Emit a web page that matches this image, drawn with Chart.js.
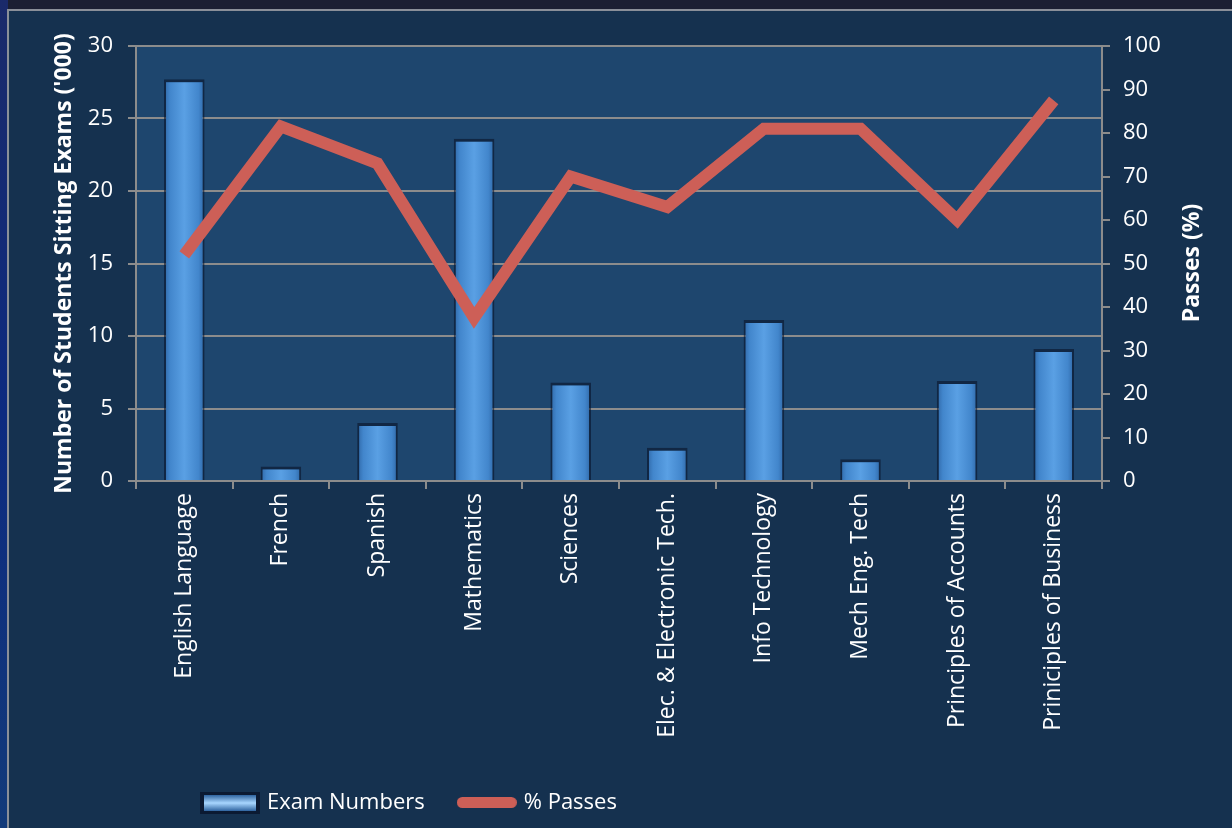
<!DOCTYPE html>
<html><head><meta charset="utf-8">
<script src="https://cdn.jsdelivr.net/npm/chart.js@4"></script>
<style>
html,body{margin:0;padding:0;width:1232px;height:828px;overflow:hidden;background:#1b1f33;}
#bg{position:absolute;left:0;top:0;width:8px;height:828px;background:linear-gradient(#1a2a6a,#0d2a80,#123a7a);}
#panel{position:absolute;left:7px;top:9px;width:1225px;height:819px;box-sizing:border-box;border-left:2px solid #8a8f99;border-top:2px solid #8a8f99;background:#15314f;}
#wrap{position:absolute;left:0;top:0;width:1232px;height:828px;}
</style></head>
<body><div id="bg"></div><div id="panel"></div><div id="wrap"><canvas id="c" width="1232" height="828"></canvas></div>
<script>
const categories = ['English Language','French','Spanish','Mathematics','Sciences','Elec. & Electronic Tech.','Info Technology','Mech Eng. Tech','Principles of Accounts','Priniciples of Business'];
const examNumbers = [27.7, 1.0, 4.0, 23.6, 6.8, 2.3, 11.1, 1.5, 6.9, 9.1];
const passes = [52, 81.5, 73, 37.5, 70, 63, 81, 81, 60, 87.5];
const leftTicksMax = 30, leftStep = 5, rightTicksMax = 100, rightStep = 10;
const leftTitle = "Number of Students Sitting Exams ('000)";
const rightTitle = 'Passes (%)';
const seriesNames = ['Exam Numbers', '% Passes'];

const FONT = 'Open Sans';
const GRID = '#8c8c8c';
const RED = '#cd5f57';

function makeBarIcon(){
  const c = document.createElement('canvas'); c.width = 60; c.height = 22;
  const x = c.getContext('2d');
  x.fillStyle = '#0b1a33'; x.fillRect(0,0,60,22);
  const g = x.createLinearGradient(0,3,0,19);
  g.addColorStop(0,'#2f64a0'); g.addColorStop(0.5,'#a8d6ff'); g.addColorStop(1,'#2f64a0');
  x.fillStyle = g; x.fillRect(4,3,52,16);
  return c;
}
function makeLineIcon(){
  const c = document.createElement('canvas'); c.width = 60; c.height = 12;
  const x = c.getContext('2d');
  x.fillStyle = RED; x.beginPath();
  if (x.roundRect) x.roundRect(0,0,60,11,5.5); else x.rect(0,0,60,11);
  x.fill();
  return c;
}
const barIcon = makeBarIcon(), lineIcon = makeLineIcon();

function barFill(context){
  const chart = context.chart;
  const xs = chart.scales.x;
  if (!xs || context.dataIndex === undefined || !chart.chartArea) return '#4a8fd6';
  const cx = xs.getPixelForValue(context.dataIndex);
  const w = xs.width / categories.length * 0.42;
  const g = chart.ctx.createLinearGradient(cx - w/2, 0, cx + w/2, 0);
  g.addColorStop(0, '#2f67a6');
  g.addColorStop(0.15, '#4286cc');
  g.addColorStop(0.5, '#5aa0e4');
  g.addColorStop(0.85, '#4286cc');
  g.addColorStop(1, '#2f67a6');
  return g;
}

const plotBg = {
  id: 'plotBg',
  beforeDraw(chart){
    const {ctx, chartArea:a} = chart;
    ctx.save(); ctx.fillStyle = '#1e466e';
    ctx.fillRect(a.left, a.top, a.right - a.left, a.bottom - a.top);
    ctx.restore();
  },
  afterLayout(chart){
    const lg = chart.legend;
    if (lg) { lg.left = 168; lg.top = 756; }
  },
  afterDraw(chart){
    const ctx = chart.ctx;
    ctx.save();
    ctx.translate(1192, 263);
    ctx.rotate(-Math.PI/2);
    ctx.fillStyle = '#ffffff';
    ctx.font = 'bold 23px "' + FONT + '"';
    ctx.textAlign = 'center'; ctx.textBaseline = 'middle';
    ctx.fillText(rightTitle, 0, 0);
    ctx.restore();
  }
};

new Chart(document.getElementById('c'), {
  data: {
    labels: categories,
    datasets: [
      { type: 'line', label: seriesNames[1], data: passes, yAxisID: 'y1', borderColor: RED, backgroundColor: RED,
        borderWidth: 12, pointRadius: 0, pointHoverRadius: 0, tension: 0, borderJoinStyle: 'miter', borderCapStyle: 'butt', order: 0 },
      { type: 'bar', label: seriesNames[0], data: examNumbers, yAxisID: 'y', backgroundColor: barFill,
        borderColor: 'rgba(8,18,40,0.6)', borderWidth: {top: 3, left: 2, right: 2, bottom: 0}, borderSkipped: 'bottom',
        barPercentage: 0.42, categoryPercentage: 1.0, order: 1 }
    ]
  },
  options: {
    responsive: false, animation: false,
    layout: { padding: { top: 46, left: 0, right: 0, bottom: 0 } },
    plugins: {
      tooltip: { enabled: false },
      legend: {
        position: 'bottom', align: 'start',
        labels: {
          color: '#ffffff', font: { family: FONT, size: 22 }, padding: 36,
          usePointStyle: true, pointStyleWidth: 52,
          generateLabels(){
            return [
              { text: seriesNames[0], pointStyle: barIcon, fontColor: '#ffffff', datasetIndex: 1, hidden: false, lineWidth: 0, strokeStyle: 'rgba(0,0,0,0)', fillStyle: 'rgba(0,0,0,0)' },
              { text: seriesNames[1], pointStyle: lineIcon, fontColor: '#ffffff', datasetIndex: 0, hidden: false, lineWidth: 0, strokeStyle: 'rgba(0,0,0,0)', fillStyle: 'rgba(0,0,0,0)' }
            ];
          }
        }
      }
    },
    scales: {
      x: {
        grid: { offset: true, drawOnChartArea: false, color: GRID, lineWidth: 2, tickLength: 8 },
        border: { color: GRID, width: 2 },
        ticks: { color: '#ffffff', font: { family: FONT, size: 23 }, maxRotation: 90, minRotation: 90, autoSkip: false, padding: 4 },
        afterFit(s){ const lh = (s.chart.legend && s.chart.legend.height) ? s.chart.legend.height : 94; s.height = 828 - 481 - lh; }
      },
      y: {
        position: 'left', min: 0, max: leftTicksMax,
        ticks: { stepSize: leftStep, color: '#ffffff', font: { family: FONT, size: 22 }, padding: 15 },
        grid: { color: GRID, lineWidth: 2, tickLength: 8 },
        border: { color: GRID, width: 2 },
        title: { display: true, text: leftTitle, color: '#ffffff', font: { family: FONT, size: 23, weight: 'bold' }, padding: { top: 51, bottom: 0 } },
        afterFit(s){ s.width = 136; }
      },
      y1: {
        position: 'right', min: 0, max: rightTicksMax,
        ticks: { stepSize: rightStep, color: '#ffffff', font: { family: FONT, size: 22 }, padding: 13 },
        grid: { drawOnChartArea: false, color: GRID, lineWidth: 2, tickLength: 8 },
        border: { color: GRID, width: 2 },
        afterFit(s){ s.width = 130; }
      }
    }
  },
  plugins: [plotBg]
});
</script>
</body></html>
